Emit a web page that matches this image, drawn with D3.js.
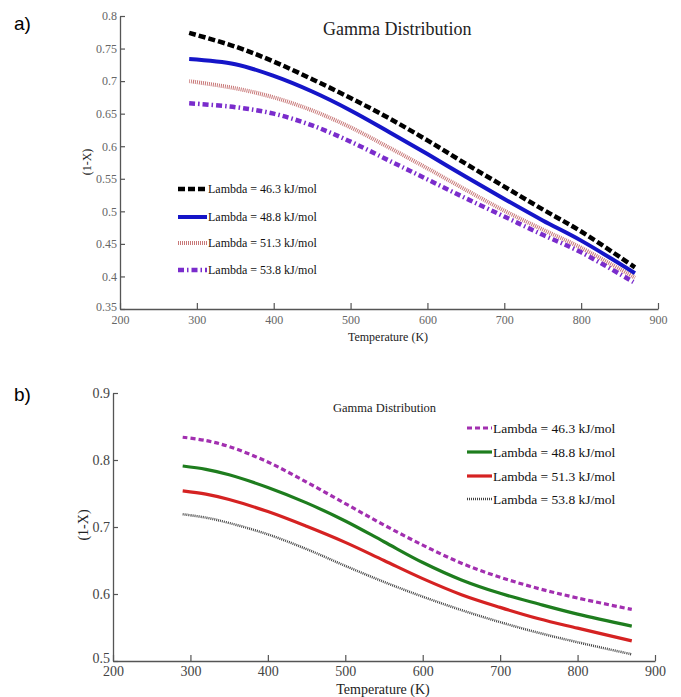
<!DOCTYPE html>
<html><head><meta charset="utf-8">
<script src="https://cdn.jsdelivr.net/npm/d3@7"></script>
<style>body{margin:0;background:#fff}svg{display:block}
.serif{font-family:"Liberation Serif","Times New Roman","DejaVu Serif","Noto Serif",serif}
.sans{font-family:"Liberation Sans",Arial,"DejaVu Sans",sans-serif}</style>
</head><body>
<svg id="c" width="681" height="697"></svg>
<script>
// ---- data ----
const tempsA = [290, 350, 400, 450, 500, 550, 600, 650, 700, 750, 800, 870];
const aLambda463 = [0.774, 0.753, 0.730, 0.703, 0.674, 0.643, 0.609, 0.573, 0.538, 0.503, 0.469, 0.414];
const aLambda488 = [0.734, 0.726, 0.708, 0.684, 0.655, 0.622, 0.588, 0.553, 0.519, 0.486, 0.455, 0.405];
const aLambda513 = [0.700, 0.689, 0.675, 0.655, 0.629, 0.598, 0.566, 0.533, 0.501, 0.472, 0.444, 0.398];
const aLambda538 = [0.666, 0.660, 0.650, 0.632, 0.607, 0.578, 0.549, 0.520, 0.492, 0.464, 0.437, 0.390];

const tempsB = [290, 320, 350, 400, 450, 500, 550, 600, 650, 700, 750, 800, 870];
const bLambda463 = [0.834, 0.829, 0.820, 0.797, 0.767, 0.735, 0.703, 0.673, 0.646, 0.625, 0.608, 0.594, 0.577];
const bLambda488 = [0.791, 0.786, 0.778, 0.759, 0.736, 0.709, 0.678, 0.647, 0.621, 0.601, 0.585, 0.570, 0.552];
const bLambda513 = [0.754, 0.749, 0.741, 0.723, 0.701, 0.677, 0.650, 0.623, 0.599, 0.580, 0.563, 0.549, 0.530];
const bLambda538 = [0.719, 0.714, 0.706, 0.689, 0.667, 0.642, 0.618, 0.596, 0.576, 0.558, 0.542, 0.528, 0.510];

const legendLabels = ["Lambda = 46.3 kJ/mol", "Lambda = 48.8 kJ/mol", "Lambda = 51.3 kJ/mol", "Lambda = 53.8 kJ/mol"];
const xTicks = [200, 300, 400, 500, 600, 700, 800, 900];
const yTicksA = [0.35, 0.4, 0.45, 0.5, 0.55, 0.6, 0.65, 0.7, 0.75, 0.8];
const yTicksB = [0.5, 0.6, 0.7, 0.8, 0.9];

const svg = d3.select("#c");

function panel(o){
  const x = d3.scaleLinear().domain([200, 900]).range([o.x0, o.x1]);
  const y = d3.scaleLinear().domain(o.ydom).range([o.y1, o.y0]);
  const g = svg.append("g");
  const ax = g.append("g").attr("transform", `translate(0,${o.y1})`)
    .call(d3.axisBottom(x).tickValues(xTicks).tickSizeInner(-6).tickSizeOuter(0).tickPadding(o.xpad).tickFormat(d3.format("d")));
  const ay = g.append("g").attr("transform", `translate(${o.x0},0)`)
    .call(d3.axisLeft(y).tickValues(o.yticks).tickSizeInner(-5).tickSizeOuter(0).tickPadding(o.ypad).tickFormat(d => String(+d.toFixed(2))));
  [ax, ay].forEach(a => {
    a.attr("font-family", null).attr("font-size", null);
    a.select(".domain").attr("stroke", "#555").attr("stroke-width", 1.3);
    a.selectAll(".tick line").attr("stroke", "#555").attr("stroke-width", 1.2);
    a.selectAll("text").attr("class", "serif").style("font-size", o.tickFs + "px").attr("fill", o.tickFill);
  });
  // lowest y label sits slightly above the corner, as in the original
  ay.selectAll(".tick").filter(d => d === o.ydom[0]).select("text").attr("dy", "0.1em");
  const line = d3.line().x((d, i) => x(o.temps[i])).y(d => y(d)).curve(d3.curveCatmullRom.alpha(0.5));
  o.series.forEach((s, k) => {
    const st = o.styles[k];
    g.append("path").datum(s).attr("d", line).attr("fill", "none")
      .attr("stroke", st.c).attr("stroke-width", st.w).attr("stroke-dasharray", st.d || null);
  });
  o.legendLabels.forEach((lab, k) => {
    const st = o.styles[k];
    const ly = o.leg.y[k];
    g.append("line").attr("x1", o.leg.x0).attr("x2", o.leg.x1).attr("y1", ly).attr("y2", ly)
      .attr("stroke", st.c).attr("stroke-width", st.w).attr("stroke-dasharray", st.d || null);
    g.append("text").attr("class", "serif").attr("x", o.leg.x1 + 1).attr("y", ly).attr("dy", "0.35em")
      .style("font-size", o.leg.fs + "px").attr("fill", "#111").text(lab);
  });
  g.append("text").attr("class", "serif").attr("x", o.title.x).attr("y", o.title.y).attr("dy", "0.35em")
    .style("font-size", o.title.fs + "px").attr("fill", "#222").text("Gamma Distribution");
  g.append("text").attr("class", "serif").attr("x", o.xlab.x).attr("y", o.xlab.y).attr("dy", "0.35em").attr("text-anchor", "middle")
    .style("font-size", o.xlab.fs + "px").attr("fill", "#222").text("Temperature (K)");
  g.append("text").attr("class", "serif").attr("transform", `translate(${o.ylab.x},${o.ylab.y}) rotate(-90)`).attr("dy", "0.35em")
    .attr("text-anchor", "middle").style("font-size", o.ylab.fs + "px").attr("fill", "#222").text("(1-X)");
  g.append("text").attr("class", "sans").attr("x", 14).attr("y", o.tag.y).attr("dy", "0.35em")
    .style("font-size", "19px").attr("fill", "#000").text(o.tag.t);
}

panel({
  x0: 120, x1: 658, y0: 16, y1: 309, ydom: [0.35, 0.8], yticks: yTicksA,
  temps: tempsA, series: [aLambda463, aLambda488, aLambda513, aLambda538],
  styles: [
    {c: "#000", w: 4.5, d: "7,3"},
    {c: "#1515c8", w: 4},
    {c: "#c87878", w: 4, d: "1,1"},
    {c: "#7a2ccc", w: 4.5, d: "6,3,1.5,3"}
  ],
  legendLabels: legendLabels,
  leg: {x0: 178, x1: 207, y: [189, 217, 243, 270], fs: 12},
  title: {x: 323, y: 29, fs: 18},
  xlab: {x: 388, y: 337, fs: 12},
  ylab: {x: 87, y: 162, fs: 12},
  tag: {t: "a)", y: 23},
  tickFs: 12, tickFill: "#666", xpad: 6, ypad: 3
});

panel({
  x0: 113, x1: 655, y0: 393, y1: 661, ydom: [0.5, 0.9], yticks: yTicksB,
  temps: tempsB, series: [bLambda463, bLambda488, bLambda513, bLambda538],
  styles: [
    {c: "#a22fb0", w: 3.2, d: "5,3"},
    {c: "#1e7d1e", w: 3.2},
    {c: "#d52222", w: 3.2},
    {c: "#444", w: 2.5, d: "1,1"}
  ],
  legendLabels: legendLabels,
  leg: {x0: 467, x1: 492, y: [428, 452, 476, 499], fs: 13.5},
  title: {x: 333, y: 408, fs: 12.5},
  xlab: {x: 383, y: 689, fs: 14},
  ylab: {x: 83, y: 525, fs: 14},
  tag: {t: "b)", y: 394},
  tickFs: 14, tickFill: "#444", xpad: 5, ypad: 3
});
</script>
</body></html>
